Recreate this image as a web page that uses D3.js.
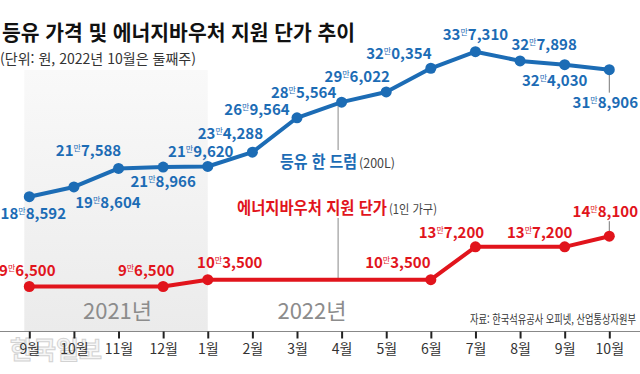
<!DOCTYPE html>
<html lang="ko">
<head>
<meta charset="utf-8">
<title>등유 가격 및 에너지바우처 지원 단가 추이</title>
<script src="https://d3js.org/d3.v7.min.js"></script>
<style>
  body { margin: 0; background: #fff; }
  svg { display: block; font-family: "Noto Sans CJK KR", "Noto Sans", sans-serif; }
</style>
</head>
<body>
<svg width="640" height="374"></svg>
<script>
// 월 (2021년 9월 ~ 2022년 10월)
var months = ["2021-09", "2021-10", "2021-11", "2021-12", "2022-01", "2022-02", "2022-03",
              "2022-04", "2022-05", "2022-06", "2022-07", "2022-08", "2022-09", "2022-10"];
var tickLabels = ["9월", "10월", "11월", "12월", "1월", "2월", "3월",
                  "4월", "5월", "6월", "7월", "8월", "9월", "10월"];

// 등유 한 드럼(200L) 가격
var keroseneDrum = [188592, 198604, 217588, 218966, 219620, 234288, 269564,
                    285564, 296022, 320354, 337310, 327898, 324030, 318906];

// 에너지바우처 지원 단가(1인 가구)
var voucher = [96500, 96500, 96500, 96500, 103500, 103500, 103500,
               103500, 103500, 103500, 137200, 137200, 137200, 148100];
// 점을 찍는 달
var voucherMarked = ["2021-09", "2021-12", "2022-01", "2022-06", "2022-07", "2022-09", "2022-10"];

var years = ["2021년", "2022년"];

// 라벨 위치 (점 기준 dx, dy)
var blueLabelOffset = [[4, 22], [34, 21], [-30, -12], [0, 20], [-7, -9], [-22, -13], [-40, -3],
                       [-38, -4], [-29, -10], [-32, -9], [0, -12], [24, -11], [-10, 21], [-4, 38]];
var redLabelOffset = [[-2, -11], [-17, -11], [22, -12], [-33, -12], [-24, -9], [-25, -9], [-4, -19]];

var width = 640, height = 374;
var blue = "#1c6cb5", red = "#e1141c";
var svg = d3.select("svg");

var x = d3.scalePoint().domain(months).range([29.3, 609.3]);
var y = d3.scaleLinear().domain([0, 400000]).range([380.6, -9.4]);
var axisY = 331.5;

// 2021년 음영
var grad = svg.append("defs").append("linearGradient")
    .attr("id", "band").attr("x1", 0).attr("y1", 0).attr("x2", 0).attr("y2", 1);
grad.append("stop").attr("offset", "0%").attr("stop-color", "#f9f9f9");
grad.append("stop").attr("offset", "100%").attr("stop-color", "#ebebeb");
svg.append("rect")
    .attr("x", x("2021-09") - 5)
    .attr("y", 70)
    .attr("width", x("2022-01") - x("2021-09") + 5)
    .attr("height", axisY - 70)
    .attr("fill", "url(#band)");

// 제목
svg.append("text")
    .attr("x", 2).attr("y", 40)
    .attr("font-size", 21).attr("font-weight", "bold").attr("fill", "#111")
    .attr("textLength", 353).attr("lengthAdjust", "spacingAndGlyphs")
    .text("등유 가격 및 에너지바우처 지원 단가 추이");
svg.append("text")
    .attr("x", 0).attr("y", 64)
    .attr("font-size", 14).attr("fill", "#333")
    .attr("textLength", 196).attr("lengthAdjust", "spacingAndGlyphs")
    .text("(단위: 원, 2022년 10월은 둘째주)");

// 연도
svg.selectAll("text.year")
    .data(years)
    .enter()
    .append("text")
    .attr("class", "year")
    .attr("x", function(d, i) { return i == 0 ? (x("2021-09") + x("2022-01")) / 2 - 1 : x("2022-03") + 15; })
    .attr("y", 319)
    .attr("text-anchor", "middle")
    .attr("font-size", 22).attr("fill", "#8c8c8c")
    .text(function(d) { return d; });

// 출처
svg.append("text")
    .attr("x", 636).attr("y", 324)
    .attr("text-anchor", "end")
    .attr("font-size", 12).attr("fill", "#333")
    .attr("textLength", 166).attr("lengthAdjust", "spacingAndGlyphs")
    .text("자료: 한국석유공사 오피넷, 산업통상자원부");

// 워터마크
svg.append("text")
    .attr("x", 10).attr("y", 359)
    .attr("font-size", 25).attr("font-weight", "bold")
    .attr("fill", "#f6f6f6").attr("stroke", "#d2d2d2").attr("stroke-width", 1)
    .text("한국일보");

// x축
svg.append("line")
    .attr("x1", 0).attr("x2", width)
    .attr("y1", axisY).attr("y2", axisY)
    .attr("stroke", "#888").attr("stroke-width", 1);
var gx = svg.append("g")
    .attr("transform", "translate(0," + axisY + ")")
    .call(d3.axisBottom(x)
        .tickSize(7)
        .tickPadding(6)
        .tickFormat(function(d, i) { return tickLabels[i]; }));
gx.select(".domain").remove();
gx.selectAll(".tick line").attr("stroke", "#222").attr("stroke-width", 2);
gx.selectAll(".tick text")
    .attr("font-family", "Noto Sans CJK KR")
    .attr("font-size", 14)
    .attr("fill", "#333");

// 4월 연결선
var i4 = months.indexOf("2022-04");
svg.append("line")
    .attr("x1", x("2022-04") - 3.5).attr("x2", x("2022-04") - 3.5)
    .attr("y1", y(keroseneDrum[i4])).attr("y2", 150)
    .attr("stroke", "#888").attr("stroke-width", 1);
svg.append("line")
    .attr("x1", x("2022-04") - 3.5).attr("x2", x("2022-04") - 3.5)
    .attr("y1", 218).attr("y2", y(voucher[i4]))
    .attr("stroke", "#888").attr("stroke-width", 1);

// 10월 지시선
var last = months.length - 1;
svg.append("line")
    .attr("x1", x(months[last])).attr("x2", x(months[last]))
    .attr("y1", y(keroseneDrum[last])).attr("y2", y(keroseneDrum[last]) + 23)
    .attr("stroke", "#777").attr("stroke-width", 1);
svg.append("line")
    .attr("x1", x(months[last])).attr("x2", x(months[last]))
    .attr("y1", y(voucher[last])).attr("y2", y(voucher[last]) - 15)
    .attr("stroke", "#777").attr("stroke-width", 1);

// 선
var line = d3.line()
    .x(function(d, i) { return x(months[i]); })
    .y(function(d) { return y(d); });
svg.append("path")
    .datum(keroseneDrum)
    .attr("d", line)
    .attr("fill", "none").attr("stroke", blue).attr("stroke-width", 4)
    .attr("stroke-linejoin", "round");
svg.append("path")
    .datum(voucher)
    .attr("d", line)
    .attr("fill", "none").attr("stroke", red).attr("stroke-width", 4)
    .attr("stroke-linejoin", "round");

// 점
svg.selectAll("circle.blue")
    .data(keroseneDrum)
    .enter()
    .append("circle")
    .attr("class", "blue")
    .attr("cx", function(d, i) { return x(months[i]); })
    .attr("cy", function(d) { return y(d); })
    .attr("r", 5.5)
    .attr("fill", blue);

var redPts = voucherMarked.map(function(m) { return { m: m, v: voucher[months.indexOf(m)] }; });
svg.selectAll("circle.red")
    .data(redPts)
    .enter()
    .append("circle")
    .attr("class", "red")
    .attr("cx", function(d) { return x(d.m); })
    .attr("cy", function(d) { return y(d.v); })
    .attr("r", 5.5)
    .attr("fill", red);

// 라벨 (예: 18만8,592)
function manLabel(sel, v, color) {
    var r = String(v % 10000).padStart(4, "0");
    sel.attr("fill", color).attr("font-weight", "bold").attr("font-size", 15).attr("text-anchor", "middle");
    sel.append("tspan").text(Math.floor(v / 10000));
    sel.append("tspan").text("만").attr("font-size", 8).attr("font-weight", "normal").attr("dy", -5);
    sel.append("tspan").text(r[0] + "," + r.slice(1)).attr("dy", 5);
}

keroseneDrum.forEach(function(v, i) {
    var o = blueLabelOffset[i];
    svg.append("text")
        .attr("x", x(months[i]) + o[0])
        .attr("y", y(v) + o[1])
        .call(manLabel, v, blue);
});
redPts.forEach(function(d, i) {
    var o = redLabelOffset[i];
    svg.append("text")
        .attr("x", x(d.m) + o[0])
        .attr("y", y(d.v) + o[1])
        .call(manLabel, d.v, red);
});

// 범례
svg.append("text")
    .attr("x", 280).attr("y", 168)
    .attr("font-size", 17).attr("font-weight", "bold").attr("fill", blue)
    .attr("textLength", 77).attr("lengthAdjust", "spacingAndGlyphs")
    .text("등유 한 드럼");
svg.append("text")
    .attr("x", 359).attr("y", 168)
    .attr("font-size", 12.5).attr("fill", "#444")
    .attr("textLength", 36).attr("lengthAdjust", "spacingAndGlyphs")
    .text("(200L)");
svg.append("text")
    .attr("x", 237).attr("y", 214)
    .attr("font-size", 17).attr("font-weight", "bold").attr("fill", red)
    .attr("textLength", 150).attr("lengthAdjust", "spacingAndGlyphs")
    .text("에너지바우처 지원 단가");
svg.append("text")
    .attr("x", 389).attr("y", 214)
    .attr("font-size", 12.5).attr("fill", "#444")
    .attr("textLength", 48).attr("lengthAdjust", "spacingAndGlyphs")
    .text("(1인 가구)");
</script>
</body>
</html>
